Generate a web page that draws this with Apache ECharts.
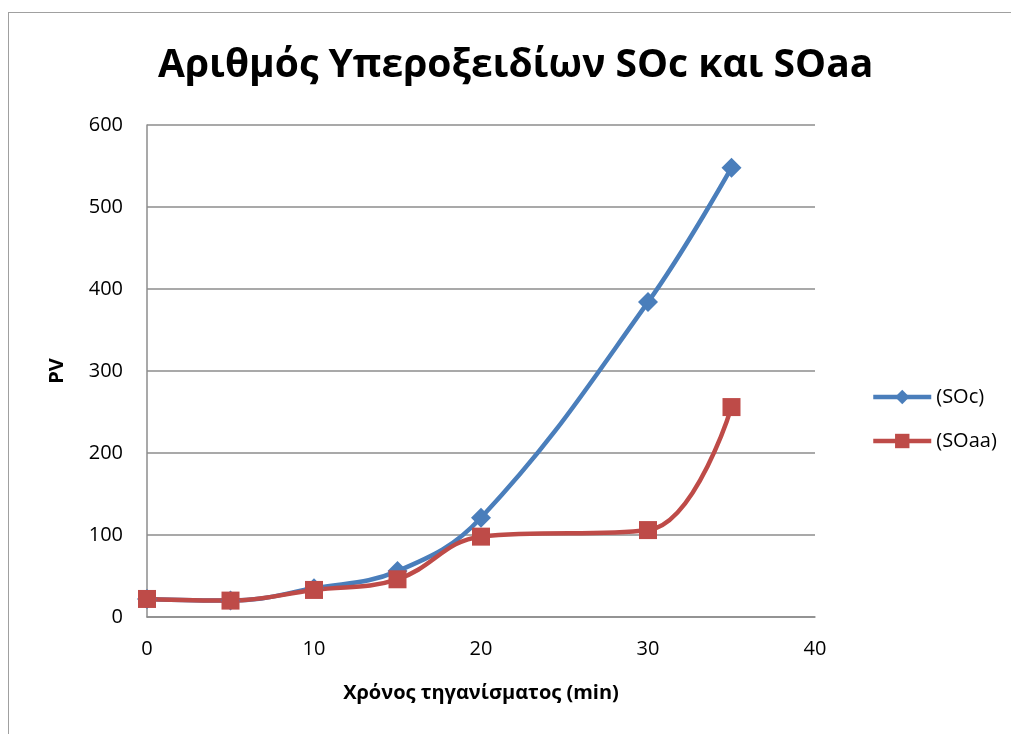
<!DOCTYPE html>
<html>
<head>
<meta charset="utf-8">
<script src="https://cdn.jsdelivr.net/npm/echarts@6/dist/echarts.min.js"></script>
<style>
  html, body { margin: 0; padding: 0; background: #fff; }
  #frame { position: absolute; left: 8px; top: 12px; width: 1003px; height: 722px;
           border-left: 1.5px solid #a0a0a0; border-top: 1.5px solid #a0a0a0; box-sizing: border-box; }
  #chart { position: absolute; left: 0; top: 0; width: 1011px; height: 734px; }
</style>
</head>
<body>
<div id="frame"></div>
<div id="chart"></div>
<script>
// fry time (min)
const times = [0, 5, 10, 15, 20, 30, 35];
const soc = [22, 20, 35, 56, 121, 384, 548];
const soaa = [22, 20, 33, 46, 98, 106, 256];
const yTicks = { min: 0, max: 600, interval: 100 };
const xTicks = { min: 0, max: 40, interval: 10 };

const font = '"Open Sans", "Noto Sans", sans-serif';

function pairs(xs, ys) {
  return xs.map((x, i) => [x, ys[i]]);
}

const chart = echarts.init(document.getElementById('chart'));
chart.setOption({
  animation: false,
  title: {
    text: 'Αριθμός Υπεροξειδίων SOc και SOaa',
    left: 153,
    top: 41,
    textStyle: { fontFamily: font, fontSize: 39, fontWeight: 'bold', color: '#000' }
  },
  legend: {
    orient: 'vertical',
    left: 866,
    top: 382,
    itemWidth: 58,
    itemHeight: 18,
    itemGap: 24,
    textStyle: { fontFamily: font, fontSize: 20, color: '#000' },
    data: [
      { name: '(SOc)', lineStyle: { width: 4.5 } },
      { name: '(SOaa)', lineStyle: { width: 4.5 } }
    ]
  },
  grid: { left: 147, right: 196, top: 125, bottom: 117 },
  xAxis: {
    type: 'value',
    min: xTicks.min, max: xTicks.max, interval: xTicks.interval,
    name: 'Χρόνος τηγανίσματος (min)',
    nameLocation: 'middle',
    nameGap: 66,
    nameTextStyle: { fontFamily: font, fontSize: 20, fontWeight: 'bold', color: '#000' },
    axisLine: { lineStyle: { color: '#8c8c8c', width: 1.5 } },
    axisTick: { show: false },
    axisLabel: { fontFamily: font, fontSize: 20, color: '#000', margin: 22 },
    splitLine: { show: false }
  },
  yAxis: {
    type: 'value',
    min: yTicks.min, max: yTicks.max, interval: yTicks.interval,
    name: 'PV',
    nameLocation: 'middle',
    nameGap: 80,
    nameRotate: 90,
    nameTextStyle: { fontFamily: font, fontSize: 20, fontWeight: 'bold', color: '#000' },
    axisLine: { show: true, lineStyle: { color: '#8c8c8c', width: 1.5 } },
    axisTick: { show: false },
    axisLabel: { fontFamily: font, fontSize: 20, color: '#000', margin: 24 },
    splitLine: { lineStyle: { color: '#8c8c8c', width: 1.5 } }
  },
  series: [
    {
      name: '(SOc)',
      type: 'line',
      smooth: 0.4,
      data: pairs(times, soc),
      symbol: 'diamond',
      symbolSize: 20,
      itemStyle: { color: '#4a7ebb' },
      lineStyle: { color: '#4a7ebb', width: 4.5 }
    },
    {
      name: '(SOaa)',
      type: 'line',
      smooth: 0.4,
      data: pairs(times, soaa),
      symbol: 'rect',
      symbolSize: 18,
      itemStyle: { color: '#be4b48' },
      lineStyle: { color: '#be4b48', width: 4.5 }
    }
  ]
});
</script>
</body>
</html>
